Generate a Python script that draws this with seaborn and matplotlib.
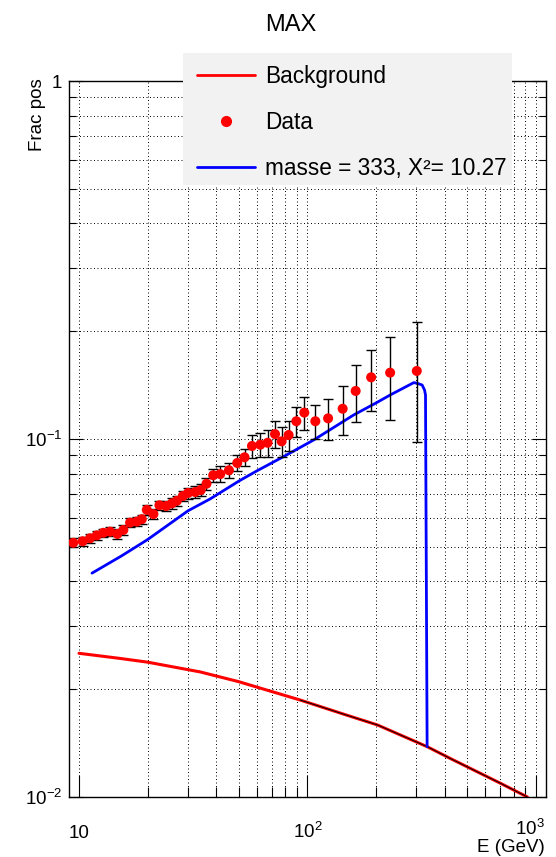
import numpy as np
import pandas as pd
import matplotlib
matplotlib.use("Agg")
import matplotlib.pyplot as plt
import seaborn as sns
from matplotlib.lines import Line2D
from matplotlib.patches import Rectangle
from matplotlib.ticker import FixedLocator, FixedFormatter, NullFormatter
import matplotlib.transforms as mtrans

# ---------------- data ----------------
data_E = [9.44, 10.38, 11.17, 11.96, 12.78, 13.68, 14.72, 15.64, 16.74, 17.91,
          18.84, 19.81, 21.18, 22.50, 24.08, 25.51, 26.83, 28.50, 30.07, 32.27,
          34.12, 36.17, 38.71, 41.54, 45.36, 49.32, 53.09, 57.22, 62.23, 66.98,
          72.18, 77.16, 82.79, 89.51, 97.01, 108.4, 123.3, 142.8, 162.8, 190.3,
          230.5, 301.6]
data_F = [0.0513, 0.0518, 0.0528, 0.0538, 0.0547, 0.0551, 0.0543, 0.0557, 0.0584, 0.0588,
          0.0597, 0.0634, 0.0617, 0.0653, 0.0650, 0.0661, 0.0672, 0.0693, 0.0707, 0.0711,
          0.0720, 0.0750, 0.0792, 0.0798, 0.0818, 0.0857, 0.0889, 0.0956, 0.0964, 0.0976,
          0.1032, 0.0985, 0.1026, 0.1121, 0.1185, 0.1121, 0.1142, 0.1215, 0.1362, 0.1487,
          0.1532, 0.1549]
data_err = [0.0015, 0.0015, 0.0015, 0.0015, 0.0015, 0.0016, 0.0016, 0.0017, 0.0017, 0.0018,
            0.0018, 0.0019, 0.0020, 0.0020, 0.0021, 0.0022, 0.0023, 0.0024, 0.0025, 0.0026,
            0.0028, 0.0030, 0.0035, 0.0040, 0.0040, 0.0045, 0.0050, 0.0070, 0.0073, 0.0084,
            0.0090, 0.0095, 0.0100, 0.0110, 0.0127, 0.0120, 0.0150, 0.0190, 0.0250, 0.0290,
            0.0400, 0.0570]

bg_E = [10, 15, 20, 34, 50, 93, 150, 203, 335, 424, 702, 920]
bg_F = [0.0252, 0.0244, 0.0238, 0.02235, 0.0210, 0.01866, 0.0169, 0.01589, 0.01382,
        0.0128, 0.01092, 0.0100]

model_E = [11.4, 15.4, 20, 30, 37.5, 50.5, 60.2, 80, 106.7, 159.5, 200, 230.5,
           292.5, 302.8, 318.4, 326.1, 329.3, 331, 334.7]
model_F = [0.0422, 0.0472, 0.0524, 0.0630, 0.0680, 0.0765, 0.0815, 0.0898, 0.0994,
           0.1167, 0.1261, 0.1327, 0.1437, 0.1431, 0.1415, 0.1370, 0.1327, 0.0640, 0.01382]

x_major = [10, 100, 1000]
x_labels = ["10", r"$\mathregular{10^{2}}$", r"$\mathregular{10^{3}}$"]
y_major = [0.01, 0.1, 1]
y_labels = [r"$\mathregular{10^{-2}}$", r"$\mathregular{10^{-1}}$", "1"]

title = "MAX"
legend_labels = ["Background", "Data", "masse = 333, X²= 10.27"]

# ---------------- style ----------------
sns.set_theme(style="white")
plt.rcParams["font.family"] = ["Liberation Sans", "DejaVu Sans"]
plt.rcParams["mathtext.fontset"] = "custom"
plt.rcParams["mathtext.rm"] = "Liberation Sans"
plt.rcParams["mathtext.it"] = "Liberation Sans:italic"
plt.rcParams["mathtext.bf"] = "Liberation Sans:bold"
plt.rcParams["text.color"] = "black"
plt.rcParams["axes.labelcolor"] = "black"
plt.rcParams["xtick.color"] = "black"
plt.rcParams["ytick.color"] = "black"

W, H = 556, 857
fig = plt.figure(figsize=(W / 100, H / 100), dpi=100)
fig.patch.set_facecolor("white")
L, R, T, B = 69, 546, 81, 797
ax = fig.add_axes([L / W, 1 - B / H, (R - L) / W, (B - T) / H])
ax.set_facecolor("white")
ax.set_xscale("log")
ax.set_yscale("log")

df_bg = pd.DataFrame({"E": bg_E, "F": bg_F})
df_model = pd.DataFrame({"E": model_E, "F": model_F})
df_data = pd.DataFrame({"E": data_E, "F": data_F, "err": data_err})

sns.lineplot(data=df_bg, x="E", y="F", ax=ax, color="#ff0000", linewidth=2.2,
             sort=False, estimator=None, zorder=3)
df_bg_hi = df_bg[df_bg["E"] >= 93]
sns.lineplot(data=df_bg_hi, x="E", y="F", ax=ax, color="black", linewidth=0.7,
             sort=False, estimator=None, zorder=3.5)
sns.lineplot(data=df_model, x="E", y="F", ax=ax, color="#0000ff", linewidth=2.0,
             sort=False, estimator=None, zorder=4)
ax.errorbar(df_data["E"], df_data["F"], yerr=df_data["err"], fmt="none",
            ecolor="black", elinewidth=1.0, capsize=3.5, capthick=1.0, zorder=5)
sns.scatterplot(data=df_data, x="E", y="F", ax=ax, color="#ff0000", s=52,
                edgecolor="none", linewidth=0, zorder=6)

ax.set_xlim(9.04, 1110)
ax.set_ylim(0.01, 1)
ax.set_xlabel("")
ax.set_ylabel("")

# ticks
ax.xaxis.set_major_locator(FixedLocator(x_major))
ax.xaxis.set_major_formatter(FixedFormatter(x_labels))
xminor = [m * d for d in (10, 100) for m in range(2, 10)]
ax.xaxis.set_minor_locator(FixedLocator(xminor))
ax.xaxis.set_minor_formatter(NullFormatter())
ax.yaxis.set_major_locator(FixedLocator(y_major))
ax.yaxis.set_major_formatter(FixedFormatter(y_labels))
yminor = [m * d for d in (0.01, 0.1) for m in range(2, 10)]
ax.yaxis.set_minor_locator(FixedLocator(yminor))
ax.yaxis.set_minor_formatter(NullFormatter())

ax.grid(which="both", color="black", linestyle=(0, (1, 2.6)), linewidth=0.7)
ax.set_axisbelow(True)

ax.tick_params(axis="x", which="major", direction="in", length=15.8, width=0.8,
               color="black", bottom=True, top=False, labelsize=13.5, pad=29.5,
               labelcolor="black")
ax.tick_params(axis="x", which="minor", direction="in", length=7.2, width=0.8,
               color="black", bottom=True, top=False)
ax.tick_params(axis="y", which="major", direction="in", length=10, width=0.8,
               color="black", left=True, right=True, labelsize=13.5, pad=5,
               labelcolor="black")
ax.tick_params(axis="y", which="minor", direction="in", length=5, width=0.8,
               color="black", left=True, right=True)
for s in ax.spines.values():
    s.set_color("black")
    s.set_linewidth(1.0)

for t in ax.xaxis.get_major_ticks():
    t.label1.set_verticalalignment("baseline")
last = ax.xaxis.get_major_ticks()[-1]
last.label1.set_transform(last.label1.get_transform() +
                          mtrans.ScaledTranslation(-6 / 100, 3 / 100, fig.dpi_scale_trans))

# titles / axis labels
fig.text(291 / W, 1 - 25 / H, title, ha="center", va="center", fontsize=17,
         color="black")
fig.text(37 / W, 1 - 78 / H, "Frac pos", rotation=90, ha="center", va="top",
         fontsize=13.5, color="black")
fig.text(545 / W, 1 - 856 / H, "E (GeV)", ha="right", va="bottom", fontsize=13.5,
         color="black")

# legend box
fig.patches.append(Rectangle((183 / W, 1 - 185 / H), (512 - 183) / W, (185 - 53) / H,
                             transform=fig.transFigure, facecolor="#f2f2f2",
                             edgecolor="none", zorder=8))
handles = [Line2D([], [], color="#ff0000", linewidth=2.0),
           Line2D([], [], color="#ff0000", marker="o", linestyle="none", markersize=7),
           Line2D([], [], color="#0000ff", linewidth=2.0)]
leg = fig.legend(handles, legend_labels, loc="upper left",
                 bbox_to_anchor=(197 / W, 1 - 65 / H), bbox_transform=fig.transFigure,
                 frameon=False, fontsize=16.3, handlelength=2.57, handletextpad=0.44,
                 labelspacing=1.01, borderpad=0, borderaxespad=0)
for txt in leg.get_texts():
    txt.set_color("black")
leg.set_zorder(9)

fig.savefig("out.png", dpi=100, facecolor="white")
